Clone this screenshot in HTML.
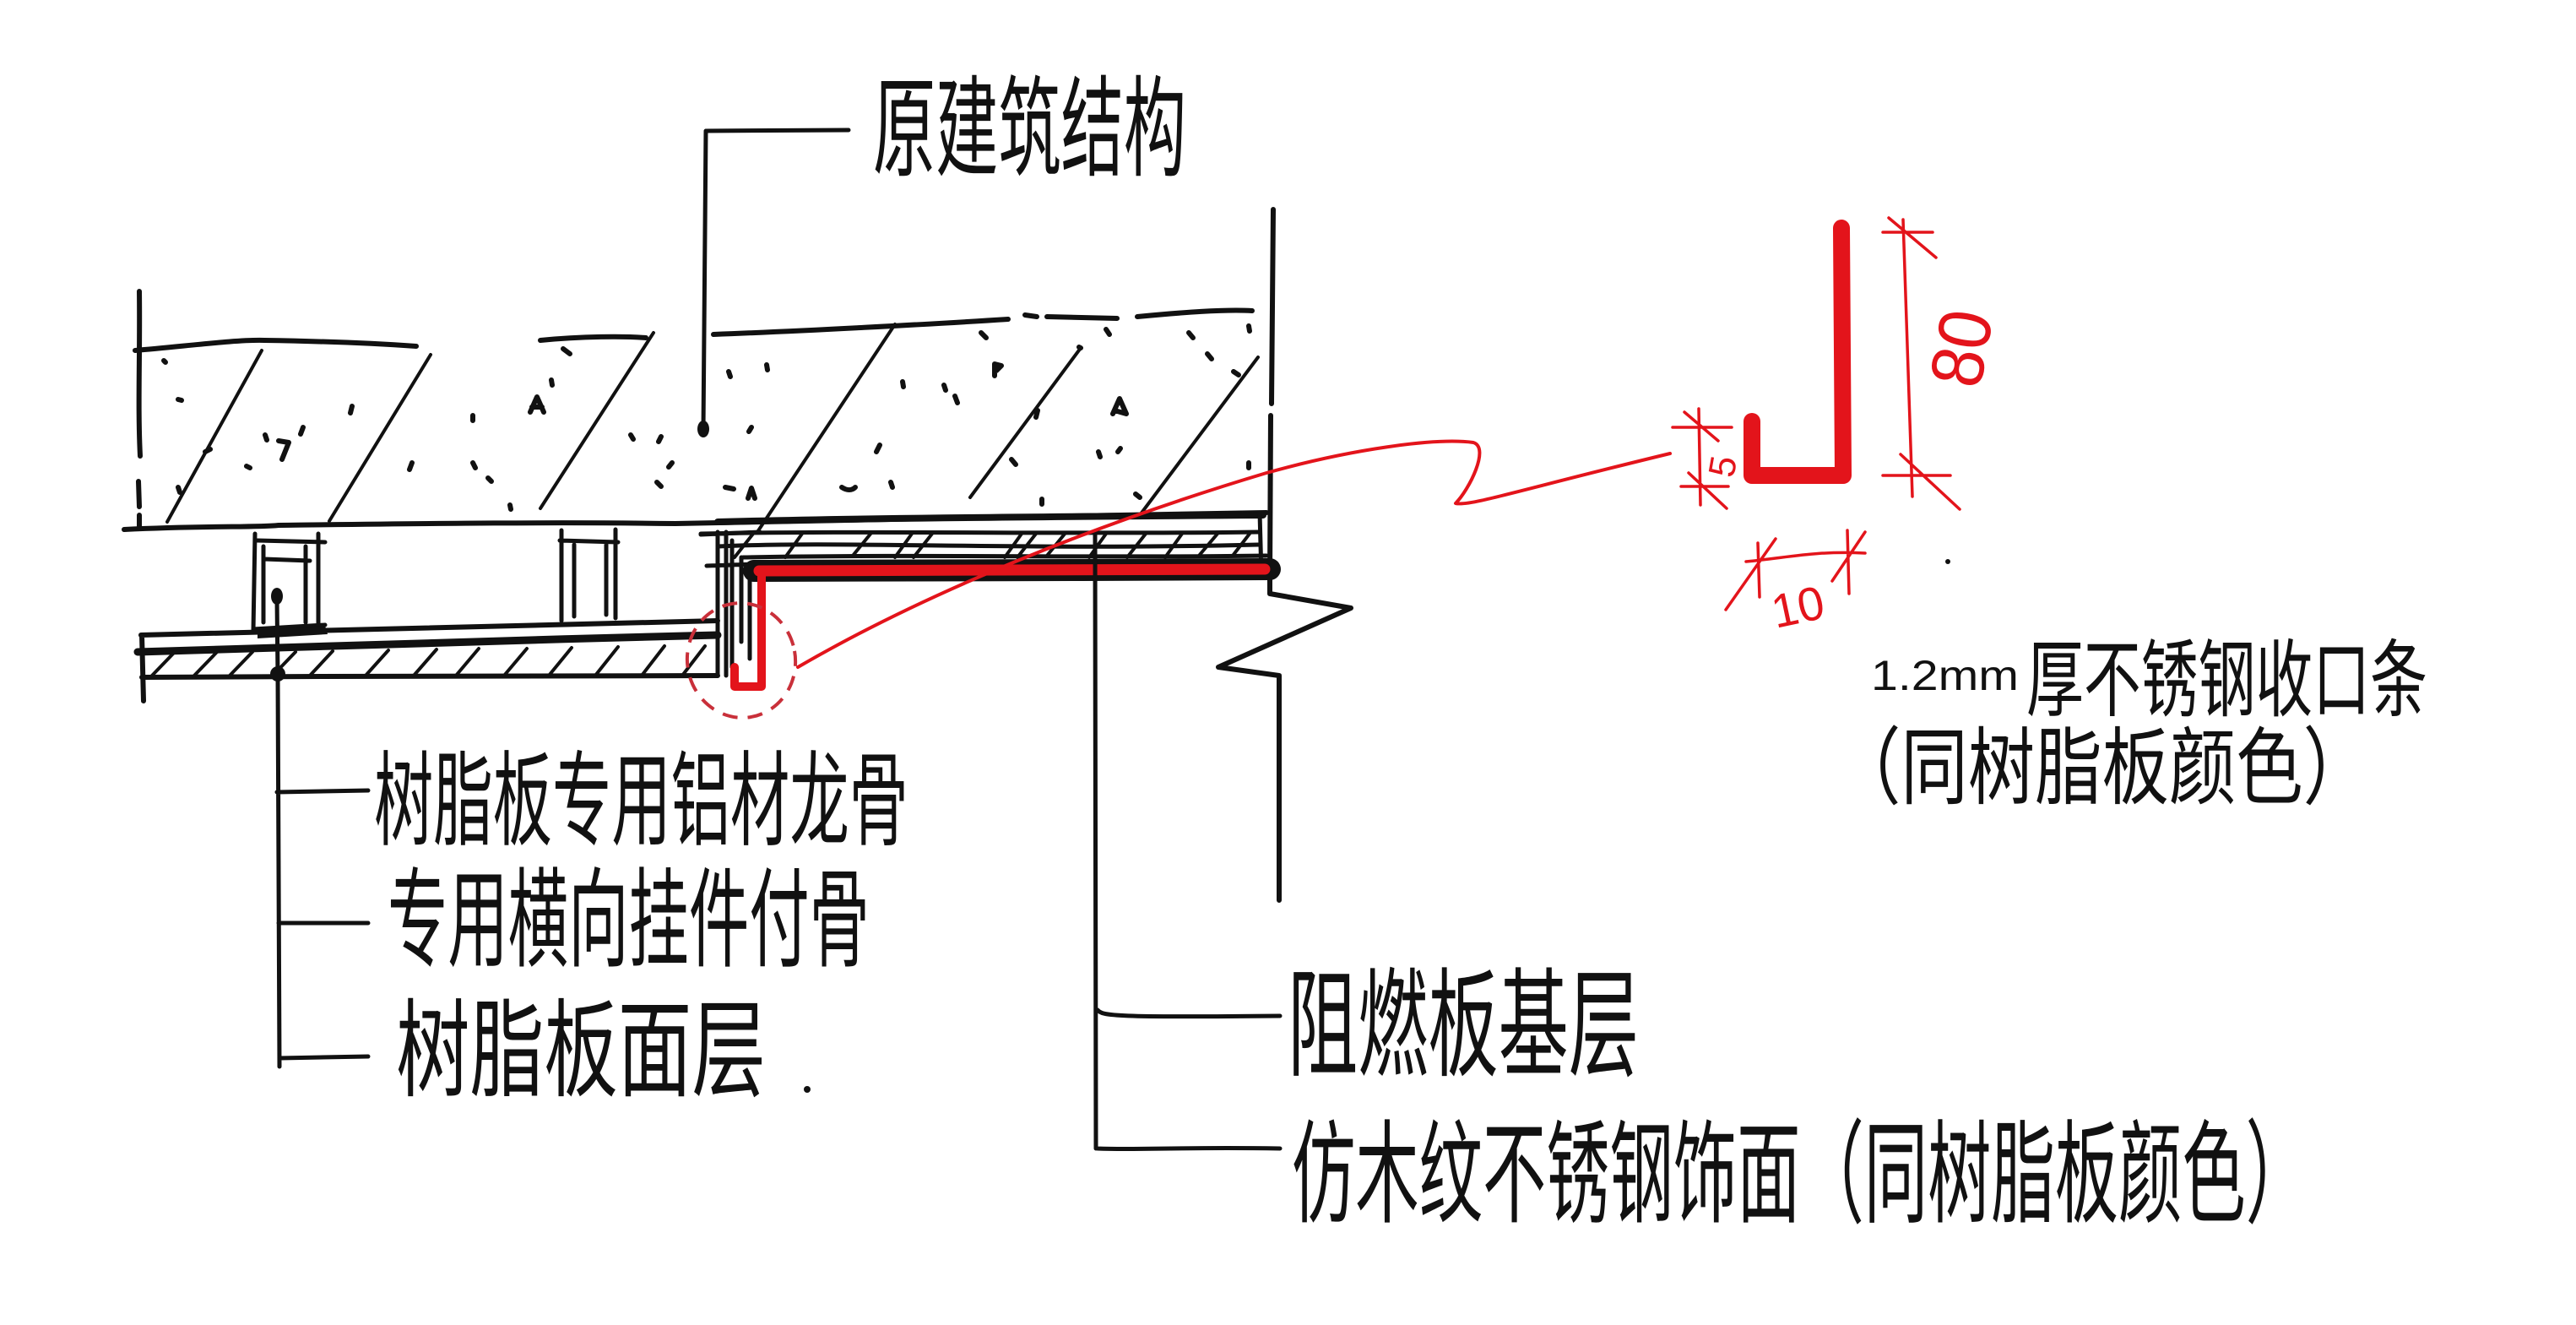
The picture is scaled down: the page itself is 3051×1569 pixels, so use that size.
<!DOCTYPE html>
<html><head><meta charset="utf-8"><style>
html,body{margin:0;padding:0;background:#fff;}
svg{display:block;}
.k{fill:none;stroke:#111;stroke-linecap:round;stroke-linejoin:round;}
.r{fill:none;stroke:#e3141b;stroke-linecap:round;stroke-linejoin:round;}
.t{font-family:"Liberation Sans","Noto Sans CJK SC",sans-serif;fill:#111;}
.tr{font-family:"Liberation Sans","Noto Sans CJK SC",sans-serif;fill:#e3141b;}
</style></head><body>
<svg width="3051" height="1569" viewBox="0 0 3051 1569" xmlns="http://www.w3.org/2000/svg">
<rect width="3051" height="1569" fill="#fff"/>

<!-- walls -->
<path class="k" stroke-width="6" d="M165,345 C166,420 163,480 166,540 M164,570 L165,600 M165,610 L165,624"/>
<path class="k" stroke-width="6" d="M1508,248 L1506,478 M1505,492 L1504,688 L1504,703 L1600,720 L1443,790 L1515,800 L1515,1066"/>

<!-- slab top -->
<path class="k" stroke-width="6" d="M160,415 C220,410 280,402 313,403 C380,404 450,407 493,410 M640,403 C690,398 740,398 765,400 M845,396 C950,392 1100,384 1194,378 M1240,375 L1323,377 M1347,375 C1400,370 1450,366 1483,368"/>
<!-- slab bottom -->
<path class="k" stroke-width="6" d="M147,627 C250,622 300,625 330,622 C500,620 650,618 800,620 C1000,616 1300,610 1500,607"/>
<!-- slab hatch -->
<path class="k" stroke-width="4" d="M310,415 L198,618 M510,420 L390,617 M774,394 L640,602 M1060,384 L897,630 M1280,412 L1149,589 M1490,423 L1350,610"/>
<!-- aggregate marks -->
<path class="k" stroke-width="6" d="M194,427 l2,2 M211,473 l4,1 M417,481 l-2,8 M359,506 l-3,8 M314,515 l2,6 M330,522 l12,2 l-8,20 M292,552 l4,2 M243,535 l6,-3 M211,577 l2,6 M488,548 l-3,8 M560,548 l3,6 M578,566 l4,4 M604,598 l1,5 M560,492 l0,6 M628,488 l8,-18 l8,18 M630,482 l12,0 M653,450 l1,6 M667,413 l8,6 M747,515 l3,5 M783,517 l-3,6 M796,548 l-4,5 M778,571 l5,5 M863,440 l2,6 M908,432 l1,6 M890,506 l-3,5 M859,577 l10,2 M886,590 l4,-12 l4,12 M997,577 c6,4 12,4 16,0 M1042,527 l-4,8 M1055,571 l2,6 M1069,452 l1,6 M1118,456 l2,6 M1131,469 l3,8 M1162,394 l6,6 M1178,445 l0,-14 l8,2 l-6,6 M1229,486 l-2,8 M1198,544 l5,6 M1234,591 l0,6 M1278,411 l2,1 M1310,390 l4,6 M1318,490 l8,-18 l8,18 l-14,-4 M1301,535 l2,6 M1327,531 l-3,4 M1345,585 l5,4 M1408,394 l5,6 M1430,419 l5,6 M1461,440 l6,4 M1479,386 l1,6 M1479,548 l0,6 M1214,373 l14,2"/>

<!-- title leader -->
<path class="k" stroke-width="5" d="M833,510 L836,155 L1005,154"/>
<ellipse cx="833" cy="508" rx="7" ry="10" fill="#111"/>

<!-- joist 1 -->
<path class="k" stroke-width="5" d="M302,632 L300,747 M377,632 L377,747 M305,640 L385,642 M312,647 L312,737 M362,647 L362,737 M313,662 L367,664 M300,745 L385,740"/>
<!-- joist 2 -->
<path class="k" stroke-width="5" d="M665,628 L665,735 M729,627 L729,732 M663,640 L732,642 M680,645 L680,730 M718,645 L718,728"/>
<!-- joist near edge -->
<path class="k" stroke-width="5" d="M850,630 L850,800 M860,630 L860,800 M867,640 L867,790 M878,660 L878,760 M888,670 L888,780 M830,633 L900,630 M837,670 L893,668"/>

<!-- left ceiling panel -->
<path class="k" stroke-width="6" d="M167,752 C300,748 500,742 850,735 M168,802 C400,800 650,802 850,800 M168,752 L170,830"/>
<path class="k" stroke-width="9" d="M163,772 C300,768 600,758 850,752"/>
<path class="k" stroke-width="4" d="M180,800 l27,-28 M230,800 l27,-28 M272,800 l27,-28 M323,800 l27,-28 M367,800 l27,-29 M433,800 l27,-30 M490,800 l27,-31 M540,800 l27,-32 M597,800 l27,-32 M650,800 l27,-33 M705,800 l27,-34 M760,800 l27,-35 M808,800 l27,-35"/>
<path fill="#111" d="M305,746 L385,741 L388,751 L305,756 Z"/>

<!-- leaders left -->
<path class="k" stroke-width="5" d="M328,708 L329,800 L331,1263 M328,938 L436,936 M330,1093 L436,1093 M331,1253 L436,1251"/>
<ellipse cx="328" cy="706" rx="7" ry="10" fill="#111"/>
<circle cx="329" cy="798" r="9" fill="#111"/>

<!-- right ceiling layer -->
<path class="k" stroke-width="8" d="M850,618 C1000,614 1200,612 1496,610"/>
<path class="k" stroke-width="5" d="M830,632 C1000,628 1300,633 1490,630 M850,647 C1000,640 1200,652 1490,645 M880,660 C1100,656 1300,661 1500,658 M1492,607 L1494,682"/>
<path class="k" stroke-width="4" d="M870,660 l22,-28 M930,660 l20,-28 M1010,658 l22,-27 M1060,660 l20,-28 M1082,660 l22,-28 M1190,660 l20,-28 M1205,660 l22,-28 M1240,658 l22,-27 M1290,660 l20,-28 M1335,660 l22,-28 M1380,660 l20,-28 M1420,658 l22,-26 M1460,658 l20,-26"/>
<path class="k" stroke-width="26" d="M893,676 C1100,674 1300,676 1504,674"/>
<path class="r" stroke-width="13" d="M899,676 C1100,674 1300,676 1498,674"/>
<!-- red J in section -->
<path class="r" stroke-width="10" stroke-linecap="square" d="M902,676 L902,813 L870,813 L870,790"/>
<ellipse cx="878" cy="782" rx="64" ry="68" fill="none" stroke="#c9303a" stroke-width="4" stroke-dasharray="18 12" transform="rotate(-10 878 782)"/>

<!-- leader right -->
<path class="k" stroke-width="5" d="M1297,633 L1298,1360 M1300,1196 C1305,1203 1320,1205 1516,1203 M1300,1360 C1350,1362 1400,1358 1516,1360"/>

<!-- red leader -->
<path class="r" stroke-width="4" d="M945,790 C1100,700 1300,620 1500,560 C1600,532 1700,518 1745,524 C1765,530 1740,580 1724,596 C1740,600 1800,580 1978,537"/>

<!-- red detail profile -->
<path class="r" stroke-width="20" d="M2075,499 L2075,563 L2183,563 L2181,270"/>
<path class="r" stroke-width="3.5" d="M2254,260 L2265,588 M2230,275 L2289,275 M2237,258 L2293,305 M2230,563 L2310,563 M2251,538 L2321,603 M2012,484 L2014,598 M1981,506 L2051,506 M1995,488 L2035,522 M1991,576 L2047,576 M2000,560 L2045,602 M2068,665 C2120,660 2150,652 2209,655 M2082,643 L2084,707 M2188,628 L2190,703 M2044,722 L2103,638 M2170,688 L2209,630"/>
<circle cx="2307" cy="665" r="3" fill="#111"/>
<text class="tr" font-size="88" textLength="90" lengthAdjust="spacingAndGlyphs" transform="translate(2345,462) rotate(-80)">80</text>
<text class="tr" font-size="44" transform="translate(2053,567) rotate(-80)">5</text>
<text class="tr" font-size="56" textLength="62" lengthAdjust="spacingAndGlyphs" transform="translate(2103,744) rotate(-12)">10</text>

<!-- texts -->
<text class="t" x="1034" y="198" font-size="130" textLength="371" lengthAdjust="spacingAndGlyphs">原建筑结构</text>
<text class="t" x="443" y="991" font-size="122" textLength="633" lengthAdjust="spacingAndGlyphs">树脂板专用铝材龙骨</text>
<text class="t" x="459" y="1134" font-size="128" textLength="571" lengthAdjust="spacingAndGlyphs">专用横向挂件付骨</text>
<text class="t" x="469" y="1288" font-size="126" textLength="438" lengthAdjust="spacingAndGlyphs">树脂板面层</text>
<circle cx="956" cy="1290" r="4" fill="#111"/>
<text class="t" x="1525" y="1263" font-size="140" textLength="416" lengthAdjust="spacingAndGlyphs">阻燃板基层</text>
<text class="t" x="1530" y="1437" font-size="133" textLength="1205" lengthAdjust="spacingAndGlyphs">仿木纹不锈钢饰面（同树脂板颜色）</text>
<text class="t" x="2216" y="817" font-size="50" textLength="175" lengthAdjust="spacingAndGlyphs">1.2mm</text>
<text class="t" x="2400" y="840" font-size="100" textLength="475" lengthAdjust="spacingAndGlyphs">厚不锈钢收口条</text>
<text class="t" x="2172" y="944" font-size="100" textLength="635" lengthAdjust="spacingAndGlyphs">（同树脂板颜色）</text>
</svg>
</body></html>
